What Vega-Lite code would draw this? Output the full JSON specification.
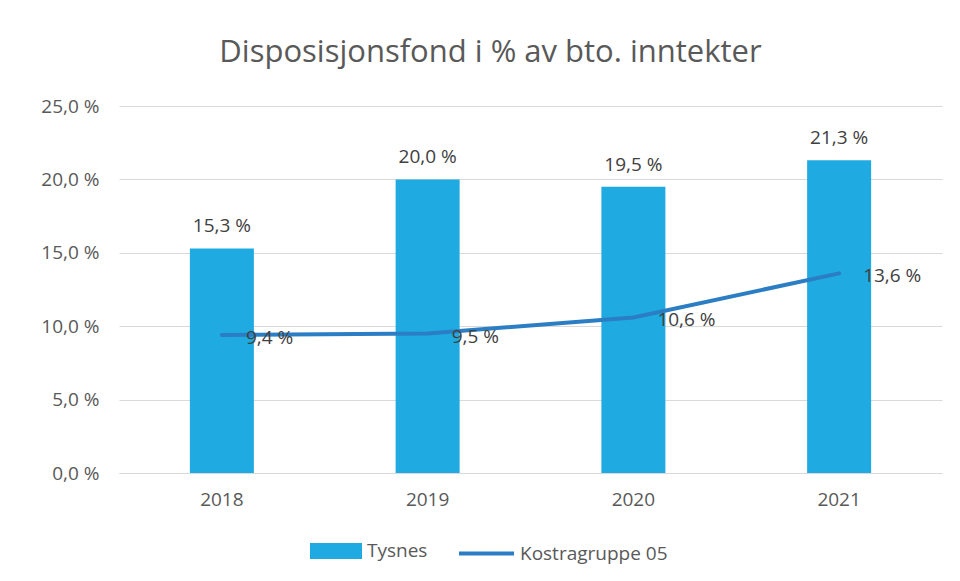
{
  "$schema": "https://vega.github.io/schema/vega-lite/v6.json",
  "autosize": {"type": "none"},
  "width": 823,
  "height": 367,
  "padding": {"left": 119, "top": 106, "right": 18, "bottom": 108},
  "background": "white",
  "config": {
    "locale": {"number": {"decimal": ",", "thousands": " ", "grouping": [3], "currency": ["", " kr"]}},
    "font": "Open Sans",
    "view": {"stroke": null},
    "axis": {"labelFont": "Open Sans", "labelColor": "#595959", "labelFontSize": 19, "titleColor": "#595959"}
  },
  "title": {
    "text": "Disposisjonsfond i % av bto. inntekter",
    "fontSize": 31,
    "font": "Open Sans",
    "fontWeight": "normal",
    "color": "#595959",
    "anchor": "middle",
    "dx": -40,
    "offset": 28
  },
  "data": {
    "values": [
      {"year": "2018", "Tysnes": 15.3, "Kostra": 9.4},
      {"year": "2019", "Tysnes": 20.0, "Kostra": 9.5},
      {"year": "2020", "Tysnes": 19.5, "Kostra": 10.6},
      {"year": "2021", "Tysnes": 21.3, "Kostra": 13.6}
    ]
  },
  "encoding": {
    "x": {
      "field": "year", "type": "nominal", "title": null,
      "scale": {"paddingInner": 0, "paddingOuter": 0},
      "axis": {"labelAngle": 0, "ticks": false, "domain": true, "domainColor": "#d9d9d9", "labelPadding": 17, "grid": false}
    }
  },
  "layer": [
    {
      "mark": {"type": "bar", "size": 64},
      "encoding": {
        "y": {
          "field": "Tysnes", "type": "quantitative", "title": null,
          "scale": {"domain": [0, 25], "nice": false, "zero": true},
          "axis": {"values": [0, 5, 10, 15, 20, 25], "labelOverlap": false, "labelExpr": "format(datum.value, '.1f') + ' %'", "ticks": false, "domain": false, "gridColor": "#d9d9d9", "labelPadding": 20}
        },
        "color": {
          "datum": "Tysnes", "type": "nominal",
          "scale": {"domain": ["Tysnes"], "range": ["#1FABE1"]},
          "legend": {"title": null, "orient": "none", "legendX": 191, "legendY": 419, "symbolType": "M-1,-0.3077H1V0.3077H-1Z", "symbolSize": 2704, "symbolStrokeWidth": 0, "labelFontSize": 19, "labelColor": "#595959", "labelFont": "Open Sans", "labelOffset": 5}
        }
      }
    },
    {
      "mark": {"type": "text", "dy": -22, "fontSize": 19, "color": "#404040", "font": "Open Sans", "text": {"expr": "format(datum.Tysnes, '.1f') + ' %'"}},
      "encoding": {
        "y": {"field": "Tysnes", "type": "quantitative", "scale": {"domain": [0, 25], "nice": false}}
      }
    },
    {
      "mark": {"type": "line", "strokeWidth": 4, "strokeCap": "round"},
      "encoding": {
        "y": {"field": "Kostra", "type": "quantitative", "scale": {"domain": [0, 25], "nice": false}},
        "stroke": {
          "datum": "Kostragruppe 05", "type": "nominal",
          "scale": {"domain": ["Kostragruppe 05"], "range": ["#2B7EC3"]},
          "legend": {"title": null, "orient": "none", "legendX": 338, "legendY": 418, "symbolType": "M-1,0H1", "symbolSize": 3025, "symbolStrokeWidth": 4, "labelFontSize": 19, "labelColor": "#595959", "labelFont": "Open Sans", "labelOffset": 4}
        }
      }
    },
    {
      "mark": {"type": "text", "align": "left", "dx": 24, "dy": 3, "fontSize": 19, "color": "#404040", "font": "Open Sans", "text": {"expr": "format(datum.Kostra, '.1f') + ' %'"}},
      "encoding": {
        "y": {"field": "Kostra", "type": "quantitative", "scale": {"domain": [0, 25], "nice": false}}
      }
    }
  ]
}
